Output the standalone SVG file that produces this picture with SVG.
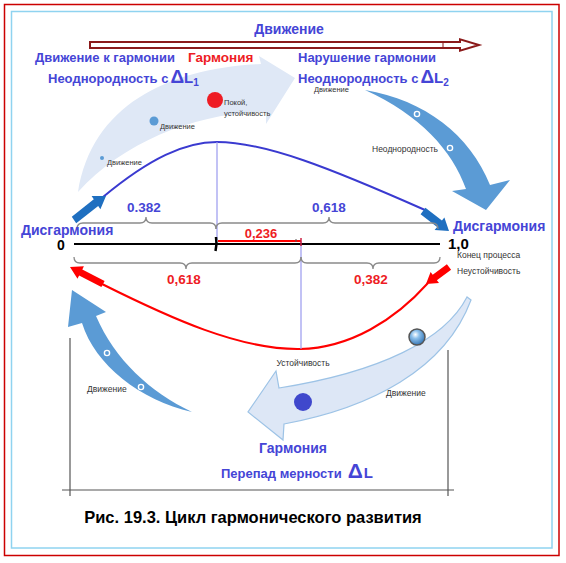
<svg xmlns="http://www.w3.org/2000/svg" width="566" height="563" viewBox="0 0 566 563">
<defs>
<style>
.b{font-family:"Liberation Sans",Arial,sans-serif;font-weight:bold;fill:#4545d6}
.r{font-family:"Liberation Sans",Arial,sans-serif;font-weight:bold;fill:#ee1c24}
.k{font-family:"Liberation Sans",Arial,sans-serif;font-weight:bold;fill:#000}
.s{font-family:"Liberation Sans",Arial,sans-serif;fill:#333;font-size:8.5px}
.t{font-family:"Liberation Sans",Arial,sans-serif;fill:#333;font-size:7.5px}
.brace{fill:none;stroke:#8a8a8a;stroke-width:1.3}
.guide{stroke:#9999ee;stroke-width:1.2}
.frame{stroke:#555;stroke-width:1.2}
.ring{fill:none;stroke:#fff;stroke-width:1.4}
</style>
<radialGradient id="ball" cx="0.4" cy="0.35" r="0.7">
<stop offset="0" stop-color="#ffffff"/>
<stop offset="0.35" stop-color="#8cc0ec"/>
<stop offset="1" stop-color="#2e6fb0"/>
</radialGradient>
</defs>

<rect x="4.5" y="4.5" width="554.5" height="551" fill="#fff" stroke="#cc0000" stroke-width="1.5"/>
<rect x="11.5" y="11.5" width="540.5" height="536.5" fill="#fff" stroke="#8fd3f0" stroke-width="1.5"/>

<g id="connectors">
<path d="M78,192 C92,104 170,68 261,64 L259,56 L295,78 L266,124 L266,112 C200,112 125,140 78,192 Z" fill="#dfe8f6"/>
<path d="M365,90 C425,100 470,135 490,185 L510,180 L486,210 L452,191 L466,189 C452,150 420,115 365,90 Z" fill="#5b9bd5"/>
<path d="M192,412 C140,400 95,365 82,323 L68,327 L72,290 L106,312 L96,316 C115,360 150,392 192,412 Z" fill="#5b9bd5"/>
<path d="M467,297 C445,340 380,372 279,388 L276,371 L248,412 L283,440 L284,424 C370,408 445,370 471,300 Z" fill="#dde7f6" stroke="#9dc3e6" stroke-width="1.2"/>

<path d="M90,42 L460,42 L460,39.3 L479,45 L460,50.7 L460,48 L90,48 Z" fill="#fff" stroke="#8b1a1a" stroke-width="2"/>
<line x1="443" y1="42" x2="443" y2="48" stroke="#8b1a1a" stroke-width="1"/>

<path d="M103,197 C150,158 185,142 217,142 C265,142 330,168 425,210" fill="none" stroke="#3a3ad0" stroke-width="2"/>
<line class="guide" x1="217" y1="142" x2="217" y2="240"/>
<path d="M102,284 C170,318 240,350 300,349 C350,348 395,320 428,283" fill="none" stroke="#ff0000" stroke-width="2"/>
<line class="guide" x1="301" y1="241" x2="301" y2="349"/>

<polygon points="71.8,216.7 93.8,199.3 91.6,195.9 106,196 100.4,209.3 98.2,205.9 76.2,223.3" fill="#1f6fc0"/>
<polygon points="425.4,207.8 441.9,220.5 444.4,217.4 449,231 434.6,230.0 437.1,226.9 420.6,214.2" fill="#1f6fc0"/>
<polygon points="104.6,280.9 82.3,269.4 83.9,266.3 70,267 77.5,278.7 79.1,275.6 101.4,287.1" fill="#ff0000"/>
<polygon points="446.9,264.2 432.7,274.7 430.6,271.9 426,284 439.0,283.1 436.9,280.3 451.1,269.8" fill="#ff0000"/>

<line x1="74" y1="244" x2="440" y2="244" stroke="#000" stroke-width="2.2"/>
<path d="M216,237 L216.5,244 L215.5,251" fill="none" stroke="#000" stroke-width="2.5"/>
<line x1="218" y1="241" x2="301" y2="241" stroke="#ff0000" stroke-width="2"/>
<line x1="301" y1="238" x2="301" y2="246" stroke="#cc2244" stroke-width="1.5"/>
<line x1="296" y1="239" x2="296" y2="242" stroke="#555" stroke-width="1"/>

<path class="brace" d="M77,229 Q77,223 83,223 L140,223 Q146,223 146,217 Q146,223 152,223 L210,223 Q216,223 216,229"/>
<path class="brace" d="M216,229 Q216,223 222,223 L323,223 Q329,223 329,217 Q329,223 335,223 L432,223 Q438,223 438,229"/>
<path class="brace" d="M74,257 Q74,263 80,263 L180,263 Q186,263 186,269 Q186,263 192,263 L295,263 Q301,263 301,257"/>
<path class="brace" d="M301,257 Q301,263 307,263 L367,263 Q373,263 373,269 Q373,263 379,263 L434,263 Q440,263 440,257"/>

<line class="frame" x1="70" y1="338" x2="70" y2="496"/>
<line class="frame" x1="448" y1="350" x2="448" y2="496"/>
<line class="frame" x1="62" y1="490" x2="454" y2="490"/>
</g>

<g id="n-top">
<text class="b" x="289" y="34" font-size="14" text-anchor="middle">Движение</text>
</g>
<g id="n-toward">
<text class="b" x="35" y="62" font-size="13">Движение к гармонии</text>
<text class="b" x="48" y="83" font-size="13">Неоднородность с<tspan font-size="19" dx="2">Δ</tspan><tspan font-size="15">L</tspan><tspan font-size="10" dy="3">1</tspan></text>
</g>
<g id="n-harmony-top">
<text class="r" x="188" y="62" font-size="13.5">Гармония</text>
</g>
<g id="n-break">
<text class="b" x="298" y="62" font-size="13">Нарушение гармонии</text>
<text class="b" x="298" y="83" font-size="13">Неоднородность с<tspan font-size="19" dx="2">Δ</tspan><tspan font-size="15">L</tspan><tspan font-size="10" dy="3">2</tspan></text>
</g>
<g id="n-small-top">
<text class="t" x="314" y="92">Движение</text>
<text class="s" x="372" y="152">Неоднородность</text>
<circle cx="215" cy="100" r="8" fill="#ee1c24"/>
<text class="t" x="224" y="105">Покой,</text>
<text class="t" x="224" y="116">устойчивость</text>
<circle cx="154" cy="121" r="4.5" fill="#5b9bd5"/>
<text class="t" x="160" y="129">Движение</text>
<circle cx="102" cy="158" r="2" fill="#5b9bd5"/>
<text class="t" x="107" y="165">Движение</text>
<circle class="ring" cx="417" cy="114" r="2.6"/>
<circle class="ring" cx="450" cy="148" r="2.6"/>
</g>
<g id="n-dis-left">
<text class="b" x="21" y="235" font-size="14">Дисгармония</text>
<text class="k" x="61" y="250" font-size="14" text-anchor="middle">0</text>
</g>
<g id="n-dis-right">
<text class="b" x="453" y="231" font-size="14">Дисгармония</text>
<text class="k" x="448" y="249" font-size="15">1,0</text>
<text class="s" x="457" y="258">Конец процесса</text>
<text class="s" x="457" y="274">Неустойчивость</text>
</g>
<g id="n-numbers">
<text class="b" x="144" y="212" font-size="13.5" text-anchor="middle">0.382</text>
<text class="b" x="329" y="212" font-size="13.5" text-anchor="middle">0,618</text>
<text class="r" x="261" y="238" font-size="13" text-anchor="middle">0,236</text>
<text class="r" x="184" y="284" font-size="13.5" text-anchor="middle">0,618</text>
<text class="r" x="371" y="284" font-size="13.5" text-anchor="middle">0,382</text>
</g>
<g id="n-bottom">
<text class="s" x="303" y="366" text-anchor="middle">Устойчивость</text>
<text class="s" x="386" y="396">Движение</text>
<text class="s" x="87" y="392">Движение</text>
<circle class="ring" cx="107" cy="353" r="2.6"/>
<circle class="ring" cx="141" cy="387" r="2.6"/>
<circle cx="417" cy="337" r="8" fill="url(#ball)" stroke="#555" stroke-width="1.5"/>
<circle cx="303" cy="402" r="9" fill="#3f48cc"/>
</g>
<g id="n-harmony-bottom">
<text class="b" x="293" y="453" font-size="14" text-anchor="middle">Гармония</text>
<text class="b" x="221" y="478" font-size="13">Перепад мерности<tspan font-size="21" dx="6">Δ</tspan><tspan font-size="15" dx="1">L</tspan></text>
</g>
<g id="n-caption">
<text class="k" x="253" y="523" font-size="16.5" text-anchor="middle">Рис. 19.3. Цикл гармонического развития</text>
</g>
</svg>
